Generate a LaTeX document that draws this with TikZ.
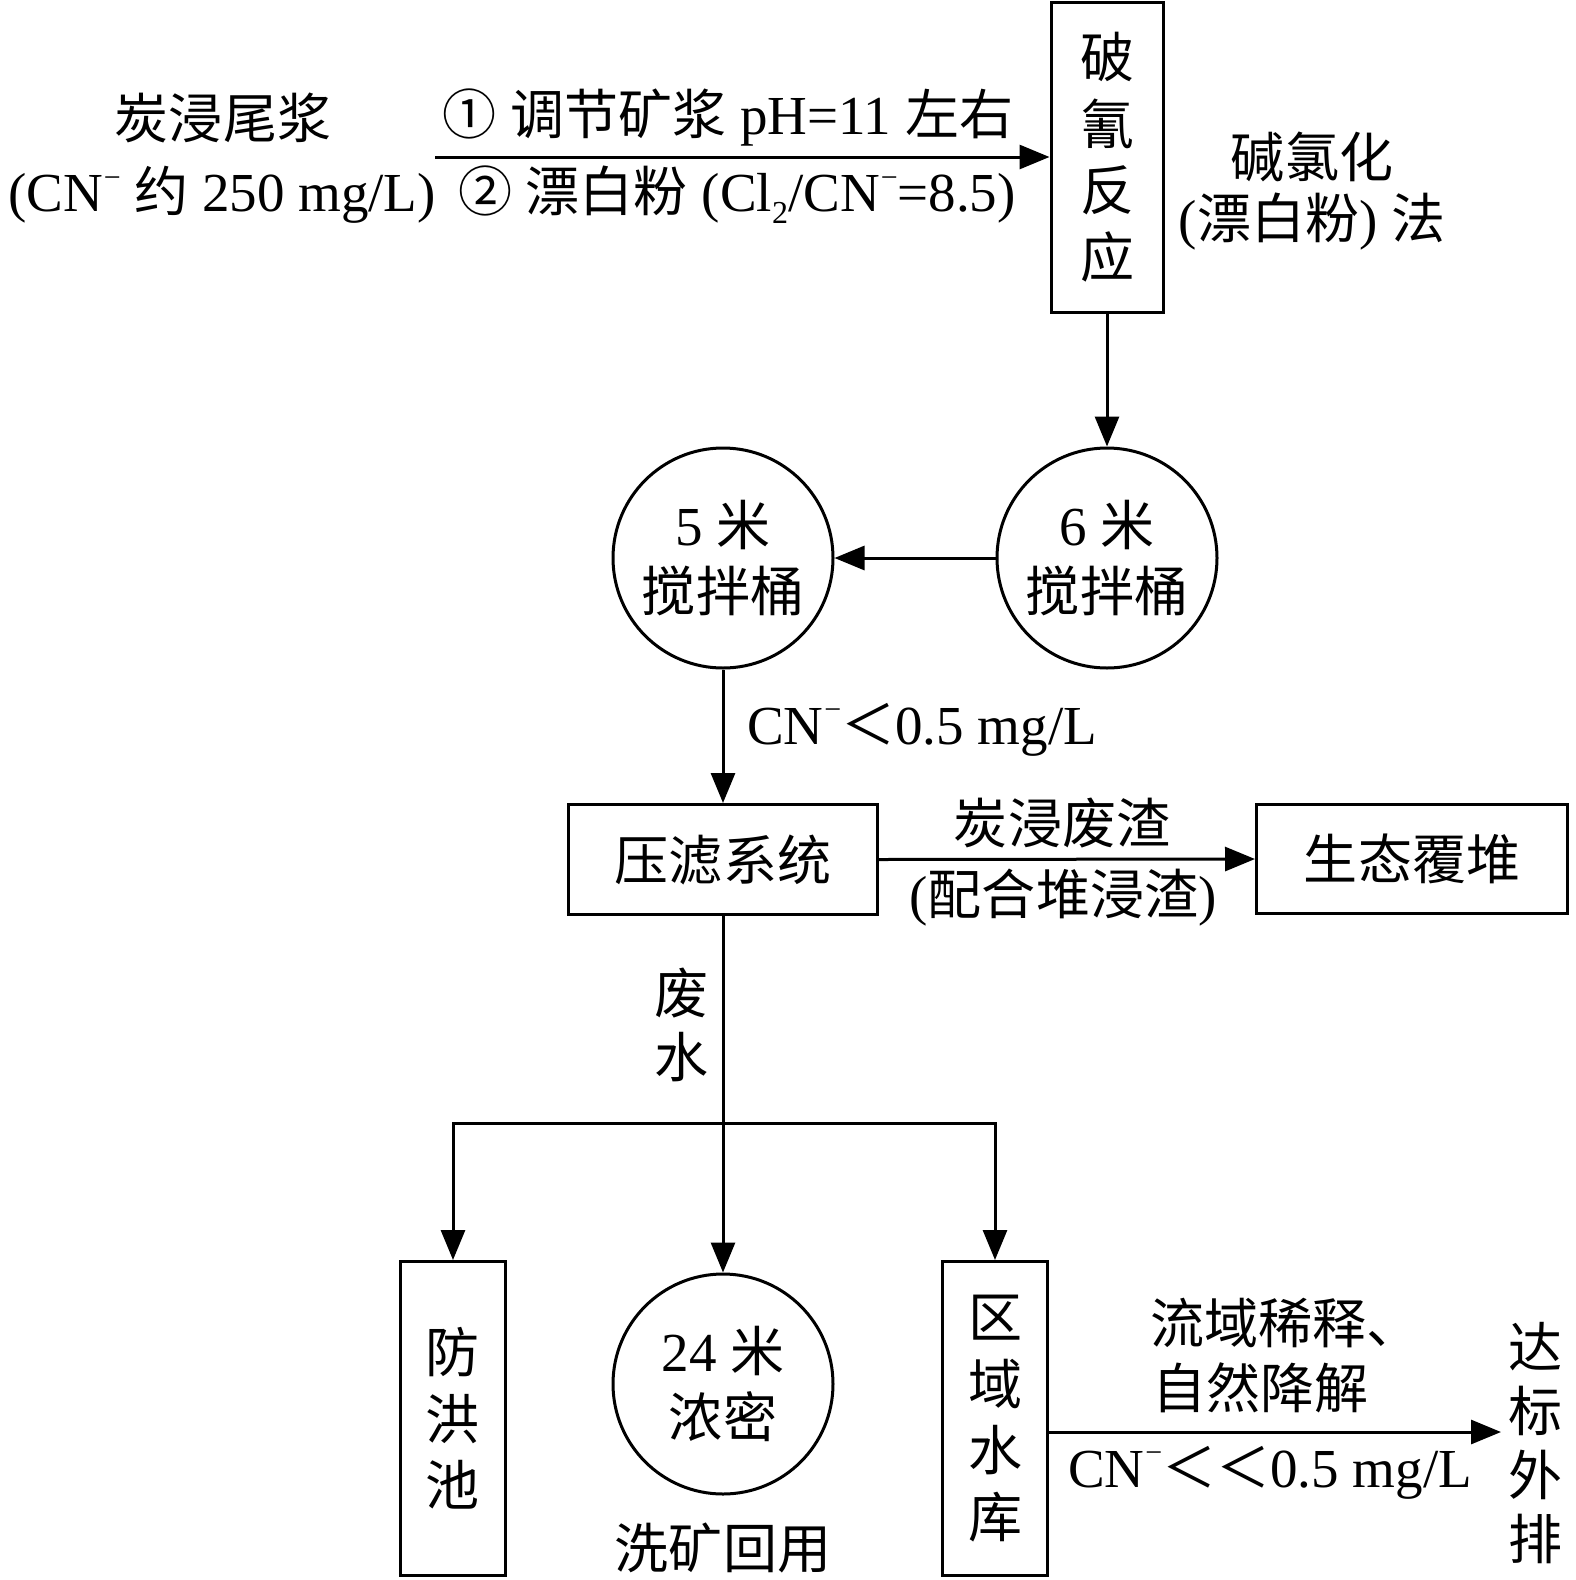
\documentclass[tikz,border=0pt]{standalone}
\usepackage{fontspec}
\setmainfont{Liberation Serif}
\newfontfamily\cjk[Scale=0.982]{Noto Sans CJK SC}
\usetikzlibrary{arrows.meta}
\newcommand\zh[1]{{\cjk #1}}
\newcommand\mn{\kern1pt\raisebox{0.45em}{\fontsize{30}{30}\selectfont\char"2212}}
\newcommand\lowidx[1]{\raisebox{-0.22em}{\fontsize{32}{32}\selectfont #1}}
\begin{document}
\begin{tikzpicture}[x=1pt,y=-1pt,
  every node/.style={font=\fontsize{55}{66.5}\selectfont, inner sep=0pt},
  zhf/.style={font=\fontsize{55}{66.5}\selectfont\cjk},
  box/.style={draw, line width=3pt, align=center},
  circ/.style={draw, circle, line width=3pt, minimum size=220pt, align=center},
  arr/.style={line width=3pt, -{Triangle[length=30pt,width=24pt]}},
  ln/.style={line width=3pt}]
\useasboundingbox (0,0) rectangle (1575,1580);

% main nodes
\node[box, minimum width=112, minimum height=310, zhf, align=center] (P) at (1107,157) {破\\氰\\反\\应};
\node[circ] (c6) at (1107,558) {6 \zh{米}\\\zh{搅拌桶}};
\node[circ] (c5) at (723,558) {5 \zh{米}\\\zh{搅拌桶}};
\node[box, minimum width=309, minimum height=110, zhf] (F) at (723,859.5) {压滤系统};
\node[box, minimum width=311, minimum height=109, zhf] (S) at (1412,859) {生态覆堆};
\node[box, minimum width=105, minimum height=314, zhf, align=center] (B1) at (453,1418.5) {防\\洪\\池};
\node[circ] (C24) at (723,1384) {24 \zh{米}\\\zh{浓密}};
\node[box, minimum width=105, minimum height=314, zhf, align=center] (B3) at (995,1418.5) {区\\域\\水\\库};

% labels
\node[zhf] (t1) at (223,118) {炭浸尾浆};
\node (t2) at (222,195) {(CN\mn{} \zh{约} 250 mg/L)};
\node (t3) at (728,118) {\zh{①} \zh{调节矿浆} pH=11 \zh{左右}};
\node (t4) at (737,195) {\zh{②} \zh{漂白粉} (Cl\lowidx{2}/CN\mn=8.5)};
\node[zhf] (t5) at (1312,157) {碱氯化};
\node (t6) at (1312,222) {(\zh{漂白粉}) \zh{法}};
\node (t7) at (922,730) {CN\mn\zh{＜}0.5 mg/L};
\node[zhf] (t8) at (1062,823) {炭浸废渣};
\node (t9) at (1063,898) {(\zh{配合堆浸渣})};
\node[zhf] (t10) at (681,993) {废};
\node[zhf] (t11) at (681,1057) {水};
\node[zhf] (t12) at (723,1548) {洗矿回用};
\node[zhf, anchor=west] (t13) at (1150,1323) {流域稀释、};
\node[zhf, anchor=west] (t14) at (1152,1388) {自然降解};
\node (t15) at (1270,1473) {CN\mn\zh{＜＜}0.5 mg/L};
\node[font=\fontsize{55}{64.3}\selectfont\cjk, align=center] (t16) at (1535,1443) {达\\标\\外\\排};

% coordinates
\coordinate (in1) at (435,157);
\coordinate (jn) at (723,1123);
\coordinate (out) at (1501,1432);

% connectors
\draw[arr] (in1) -- (P.west);
\draw[arr] (P.south) -- (c6.north);
\draw[arr] (c6.west) -- (c5.east);
\draw[arr] (c5.south) -- (F.north);
\draw[arr] (F.east) -- (S.west);
\draw[arr] (F.south) -- (C24.north);
\draw[arr] (jn) -| (B1.north);
\draw[arr] (jn) -| (B3.north);
\draw[arr] (B3.east |- out) -- (out);
\end{tikzpicture}
\end{document}
